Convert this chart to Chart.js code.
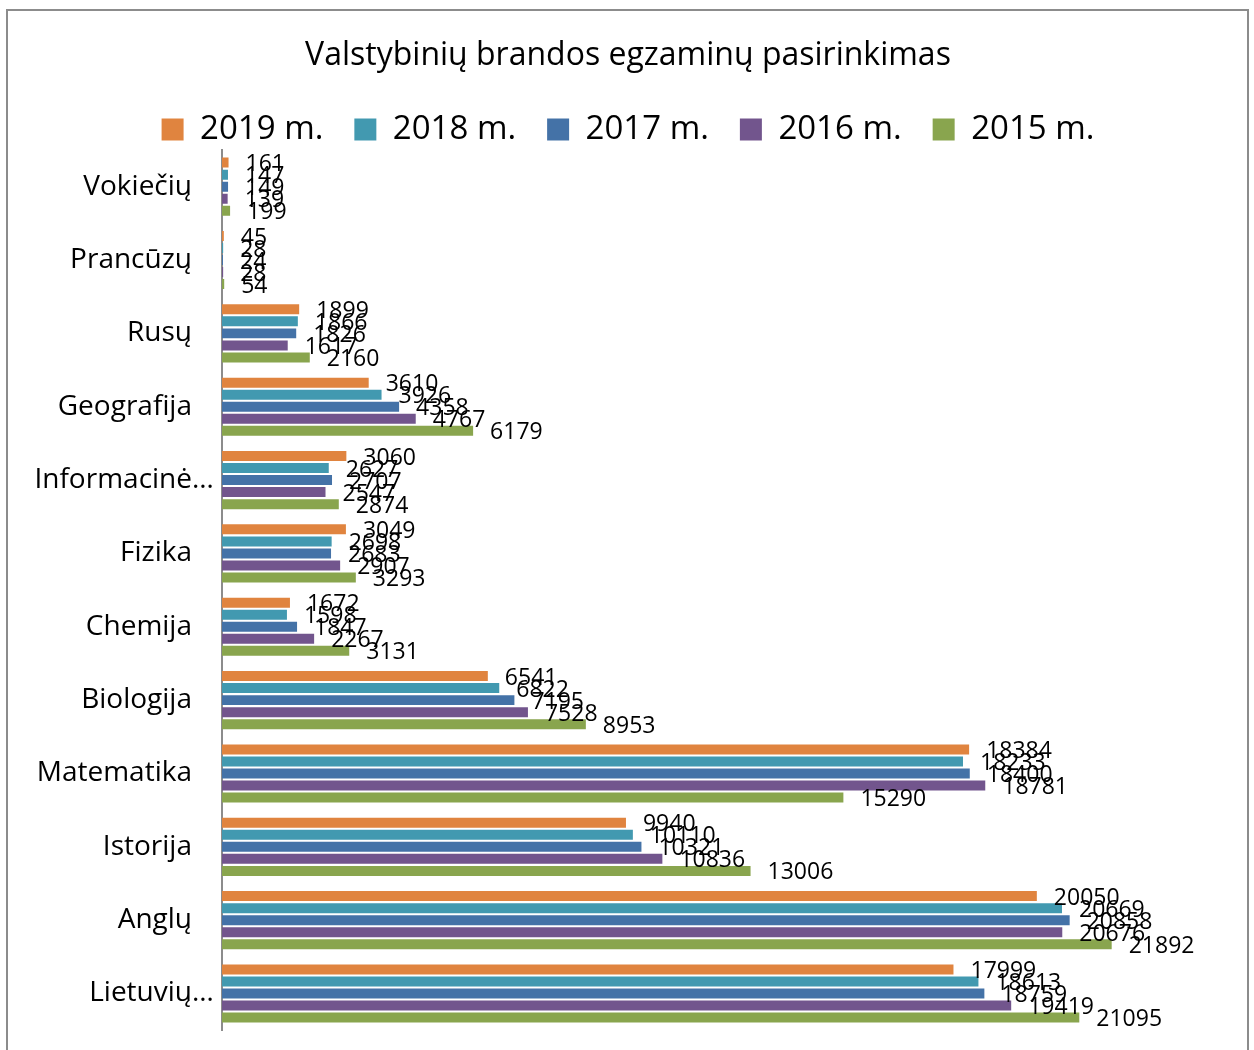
<!DOCTYPE html>
<html>
<head>
<meta charset="utf-8">
<script src="https://cdn.jsdelivr.net/npm/chart.js@4/dist/chart.umd.min.js"></script>
<style>
  html, body { margin: 0; padding: 0; background: #fff; overflow: hidden; }
  #frame { position: absolute; left: 6px; top: 9px; width: 1239px; height: 1100px; border: 2px solid #8c8c8c; }
  #wrap { position: absolute; left: 0; top: 0; width: 1254px; height: 1050px; overflow: hidden; }
</style>
</head>
<body>
<div id="frame"></div>
<div id="wrap"><canvas id="c" width="1254" height="1077"></canvas></div>
<script>
const categories = ["Vokiečių", "Prancūzų", "Rusų", "Geografija", "Informacinė…", "Fizika", "Chemija", "Biologija", "Matematika", "Istorija", "Anglų", "Lietuvių…"];
const seriesNames = ["2019 m.", "2018 m.", "2017 m.", "2016 m.", "2015 m."];
const y2019 = [161, 45, 1899, 3610, 3060, 3049, 1672, 6541, 18384, 9940, 20050, 17999];
const y2018 = [147, 28, 1866, 3926, 2627, 2698, 1598, 6822, 18233, 10110, 20669, 18613];
const y2017 = [149, 24, 1826, 4358, 2707, 2683, 1847, 7195, 18400, 10321, 20858, 18759];
const y2016 = [139, 28, 1617, 4767, 2547, 2907, 2267, 7528, 18781, 10836, 20676, 19419];
const y2015 = [199, 54, 2160, 6179, 2874, 3293, 3131, 8953, 15290, 13006, 21892, 21095];
const colors = ["#E0843F", "#4299B0", "#4472A7", "#72558D", "#89A54E"];
const seriesData = [y2019, y2018, y2017, y2016, y2015];

const FONT = "'Open Sans', sans-serif";

const labelPlugin = {
  id: 'valueLabels',
  afterDatasetsDraw(chart) {
    const ctx = chart.ctx;
    ctx.save();
    ctx.font = "23px " + FONT;
    ctx.fillStyle = "#000";
    ctx.textAlign = "left";
    ctx.textBaseline = "middle";
    chart.data.datasets.forEach((ds, di) => {
      const meta = chart.getDatasetMeta(di);
      meta.data.forEach((el, i) => {
        ctx.fillText(String(ds.data[i]), el.x + 17, el.y + 2);
      });
    });
    ctx.restore();
  }
};

// category labels: right edge of the word at a fixed gap from the axis, ellipsis hangs past it
const catLabelPlugin = {
  id: 'catLabels',
  afterDraw(chart) {
    const ctx = chart.ctx;
    const ys = chart.scales.y;
    ctx.save();
    ctx.font = "28px " + FONT;
    ctx.fillStyle = "#000";
    ctx.textBaseline = "middle";
    const xr = ys.right - 30;
    chart.data.labels.forEach((lab, i) => {
      const y = ys.getPixelForValue(i);
      if (lab.endsWith("…")) {
        const base = lab.slice(0, -1);
        ctx.textAlign = "right";
        ctx.fillText(base, xr, y);
        ctx.textAlign = "left";
        ctx.fillText("…", xr, y);
      } else {
        ctx.textAlign = "right";
        ctx.fillText(lab, xr, y);
      }
    });
    ctx.restore();
  }
};

new Chart(document.getElementById('c'), {
  type: 'bar',
  data: {
    labels: categories,
    datasets: seriesNames.map((n, k) => ({
      label: n,
      data: seriesData[k],
      backgroundColor: colors[k],
      borderColor: colors[k],
      borderWidth: 0,
      categoryPercentage: 0.82,
      barPercentage: 0.83
    }))
  },
  options: {
    indexAxis: 'y',
    responsive: false,
    animation: false,
    layout: { padding: { left: 18, right: 16, top: 0, bottom: 16 } },
    plugins: {
      title: {
        display: true,
        text: "Valstybinių brandos egzaminų pasirinkimas",
        color: "#000",
        font: { family: FONT, size: 32, weight: 'normal', lineHeight: 1.0 },
        padding: { top: 40, bottom: 10 }
      },
      legend: {
        display: true,
        position: 'top',
        maxHeight: 68,
        labels: {
          color: "#000",
          font: { family: FONT, size: 33 },
          boxWidth: 22,
          boxHeight: 22,
          padding: 31
        }
      },
      tooltip: { enabled: false }
    },
    scales: {
      x: { display: false, min: 0, max: 25000 },
      y: {
        afterFit(scale) { scale.width = 204; },
        grid: { display: false, drawTicks: false },
        border: { display: true, color: "#8c8c8c", width: 2 },
        ticks: { color: "rgba(0,0,0,0)", font: { family: FONT, size: 28 }, padding: 30, autoSkip: false }
      }
    }
  },
  plugins: [labelPlugin, catLabelPlugin]
});
</script>
</body>
</html>
